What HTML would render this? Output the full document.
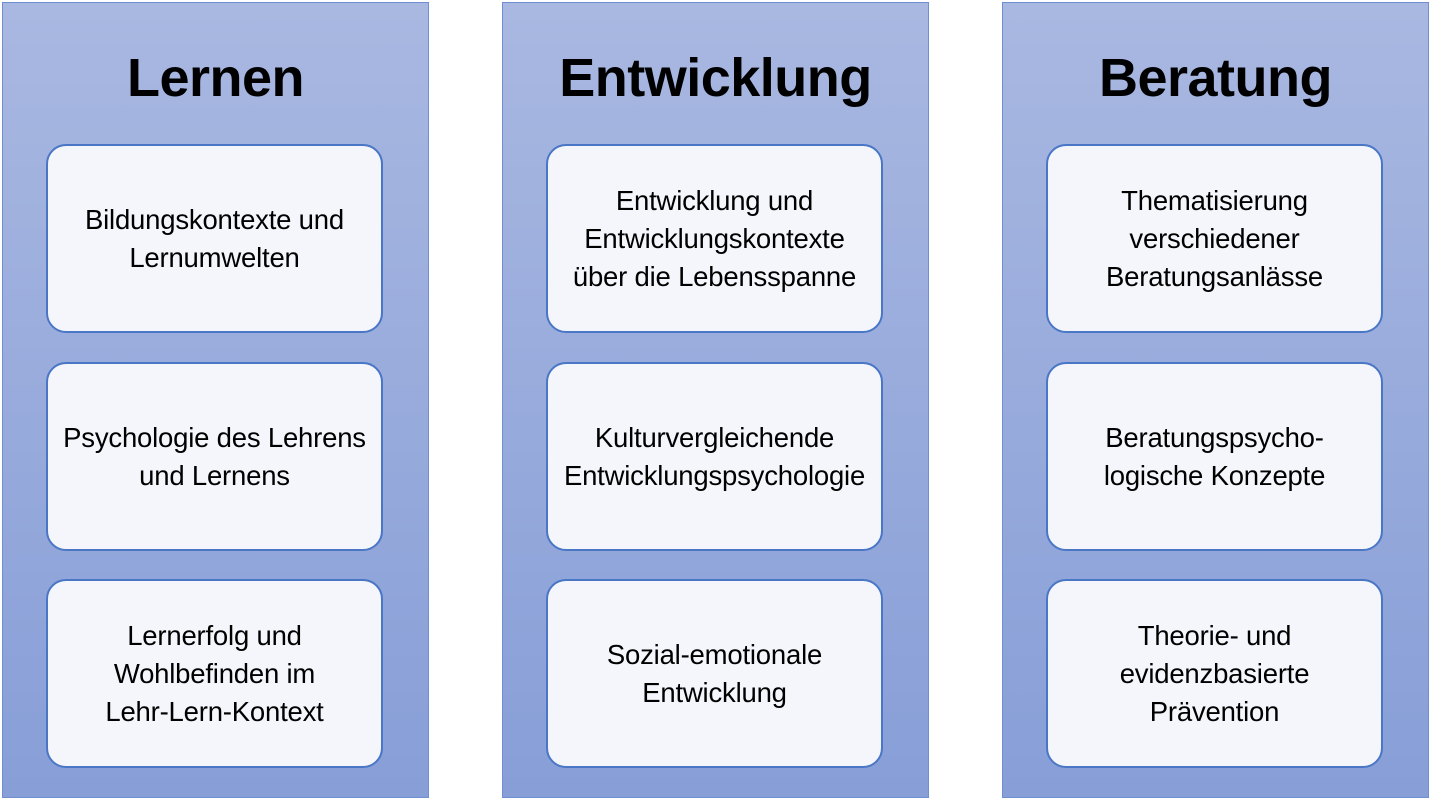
<!DOCTYPE html>
<html><head><meta charset="utf-8"><style>
body{margin:0;width:1430px;height:800px;background:#fff;position:relative;overflow:hidden;font-family:"Liberation Sans",sans-serif}
.col{position:absolute;top:2px;width:427px;height:796px;background:linear-gradient(#a9b8e1,#879ed7);border:1px solid #6f8fd0;box-sizing:border-box}
.t{position:absolute;top:44px;left:0;width:100%;text-align:center;font-weight:bold;font-size:54px;color:#000;letter-spacing:-0.5px}
.b{position:absolute;left:43px;width:337px;height:189px;box-sizing:border-box;border:2.5px solid #4a76c6;border-radius:20px;background:#f4f6fb;display:flex;align-items:center;justify-content:center;text-align:center;font-size:27.5px;line-height:38px;color:#000;white-space:nowrap;letter-spacing:-0.2px}
</style></head><body>
<div class="col" style="left:2px"><div class="t">Lernen</div>
<div class="b" style="top:141px">Bildungskontexte und<br>Lernumwelten</div>
<div class="b" style="top:359px">Psychologie des Lehrens<br>und Lernens</div>
<div class="b" style="top:576px">Lernerfolg und<br>Wohlbefinden im<br>Lehr-Lern-Kontext</div></div>
<div class="col" style="left:502px"><div class="t">Entwicklung</div>
<div class="b" style="top:141px">Entwicklung und<br>Entwicklungskontexte<br>über die Lebensspanne</div>
<div class="b" style="top:359px">Kulturvergleichende<br>Entwicklungspsychologie</div>
<div class="b" style="top:576px">Sozial-emotionale<br>Entwicklung</div></div>
<div class="col" style="left:1002px"><div class="t">Beratung</div>
<div class="b" style="top:141px">Thematisierung<br>verschiedener<br>Beratungsanlässe</div>
<div class="b" style="top:359px">Beratungspsycho-<br>logische Konzepte</div>
<div class="b" style="top:576px">Theorie- und<br>evidenzbasierte<br>Prävention</div></div>
</body></html>
